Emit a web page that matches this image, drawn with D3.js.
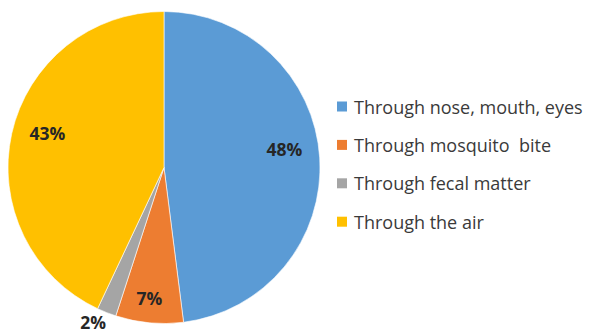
<!DOCTYPE html>
<html>
<head>
<meta charset="utf-8">
<script src="https://cdn.jsdelivr.net/npm/d3@7"></script>
<style>
  html, body { margin: 0; padding: 0; background: #fff; }
  svg { display: block; }
</style>
</head>
<body>
<svg id="chart" width="592" height="336"></svg>
<script>
// Transmission routes and their shares (percent)
const categories = [
  "Through nose, mouth, eyes",
  "Through mosquito  bite",
  "Through fecal matter",
  "Through the air"
];
const shares = [48, 7, 2, 43];
const colors = ["#5B9BD5", "#ED7D31", "#A5A5A5", "#FFC000"];

const svg = d3.select("#chart");
const cx = 164, cy = 167.5, R = 156;

const pie = d3.pie().sort(null).value(d => d.value);
const data = categories.map((c, i) => ({ name: c, value: shares[i], color: colors[i] }));
const arcs = pie(data);

const arc = d3.arc().innerRadius(0).outerRadius(R);
const g = svg.append("g").attr("transform", `translate(${cx},${cy})`);

g.selectAll("path.slice")
  .data(arcs)
  .join("path")
  .attr("class", "slice")
  .attr("d", arc)
  .attr("fill", d => d.data.color)
  .attr("stroke", "#fff")
  .attr("stroke-width", 0.6);

// Label placement ("best fit"): small angular nudges and radius per slice size
const labelNudgeDeg = [-5, 1, 3, 4];
function labelPos(d, i) {
  const mid = (d.startAngle + d.endAngle) / 2 + labelNudgeDeg[i] * Math.PI / 180;
  const r = d.data.value < 5 ? R * 1.09 : d.data.value < 10 ? R * 0.84 : R * 0.78;
  return [Math.sin(mid) * r, -Math.cos(mid) * r];
}

g.selectAll("text.pct")
  .data(arcs)
  .join("text")
  .attr("class", "pct")
  .attr("transform", (d, i) => {
    const p = labelPos(d, i);
    return `translate(${p[0]},${p[1]})`;
  })
  .attr("text-anchor", "middle")
  .attr("dominant-baseline", "central")
  .attr("font-family", "'Open Sans', sans-serif")
  .attr("font-weight", "bold")
  .attr("font-size", 17.5)
  .attr("fill", "#262626")
  .text(d => d.data.value + "%");

// Legend
const legend = svg.append("g").attr("transform", "translate(337,106.5)");
const rowGap = 38.4;
const rows = legend.selectAll("g.row")
  .data(data)
  .join("g")
  .attr("class", "row")
  .attr("transform", (d, i) => `translate(0,${i * rowGap})`);

rows.append("rect")
  .attr("x", 0).attr("y", -5)
  .attr("width", 10).attr("height", 10)
  .attr("fill", d => d.color);

rows.append("text")
  .attr("x", 17).attr("y", 0)
  .attr("dominant-baseline", "central")
  .attr("font-family", "'Open Sans', sans-serif")
  .attr("font-size", 18)
  .attr("fill", "#3a3a3a")
  .style("white-space", "pre")
  .text(d => d.name);
</script>
</body>
</html>
